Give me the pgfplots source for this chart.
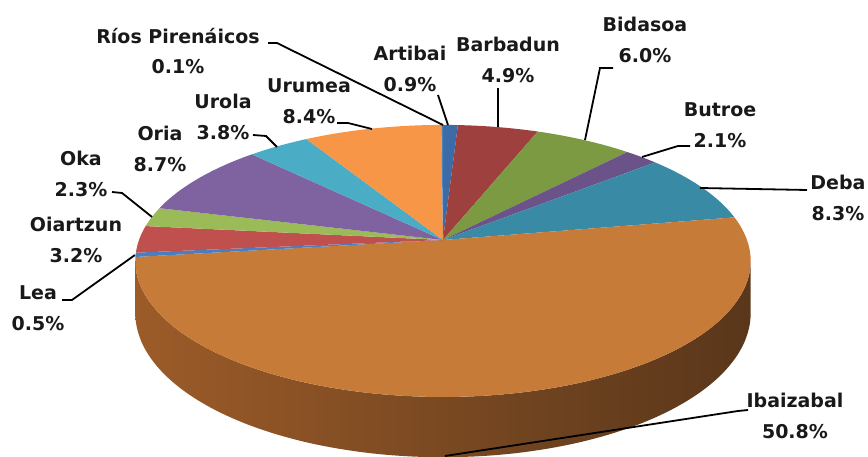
\documentclass[border=0pt]{standalone}
\usepackage{fontspec}
\setmainfont{DejaVu Sans}
\usepackage{pgfplots}
\usepackage{pgfplotstable}
\pgfplotsset{compat=1.18}

% slice colours
\definecolor{cArt}{HTML}{3C6CA8}
\definecolor{cBar}{HTML}{9E413E}
\definecolor{cBid}{HTML}{7B9A41}
\definecolor{cBut}{HTML}{6B5289}
\definecolor{cDeb}{HTML}{398AA4}
\definecolor{cIba}{HTML}{C77B38}
\definecolor{cLea}{HTML}{4A7EC0}
\definecolor{cOia}{HTML}{C0504D}
\definecolor{cOka}{HTML}{9BBB59}
\definecolor{cOri}{HTML}{7F63A1}
\definecolor{cUro}{HTML}{4BACC6}
\definecolor{cUru}{HTML}{F79646}
\definecolor{cRio}{HTML}{4F81BD}
% rim of the large slice, lit from the left
\definecolor{sideA}{HTML}{B26B30}
\definecolor{sideB}{HTML}{9A5A28}
\definecolor{sideC}{HTML}{6D421F}
\definecolor{sideD}{HTML}{4F3018}
\definecolor{sideE}{HTML}{4A2C15}
\pgfdeclarehorizontalshading{ibside}{100bp}{color(0bp)=(sideA); color(27bp)=(sideB); color(59bp)=(sideC); color(84bp)=(sideD); color(100bp)=(sideE)}

% share of each basin, clockwise from twelve o'clock
\pgfplotstableread[col sep=comma]{
name,value,col
Artibai,0.9,cArt
Barbadun,4.9,cBar
Bidasoa,6.0,cBid
Butroe,2.1,cBut
Deba,8.3,cDeb
Ibaizabal,50.8,cIba
Lea,0.5,cLea
Oiartzun,3.2,cOia
Oka,2.3,cOka
Oria,8.7,cOri
Urola,3.8,cUro
Urumea,8.4,cUru
Ríos Pirenáicos,0.1,cRio
}\piedata

\begin{document}
\begin{tikzpicture}[
  % tilted disc seen in perspective: centre (443,217), radii 304 x 132.8
  declare function={
    pk(\t)=1/(1+0.154*sin(\t));
    px(\t)=443+304*cos(\t)*pk(\t);
    py(\t)=217+132.8*sin(\t)*pk(\t);
    pb(\t)=py(\t)-51*pk(\t);
  },
  lbl/.style={font=\fontsize{19}{30.5}\selectfont\bfseries, text=black!90, align=center, inner sep=0pt},
  lead/.style={draw=black, line width=1.8pt}
]
\begin{axis}[
  width=868pt, height=457pt, scale only axis,
  xmin=0, xmax=868, ymin=0, ymax=457,
  hide axis, clip=false
]
% visible rim of the big slice
\shade[shading=ibside]
  plot[domain=-8.86:-171.14, samples=120] ({px(\x)},{py(\x)})
  -- plot[domain=-171.14:-8.86, samples=120] ({px(\x)},{pb(\x)}) -- cycle;

% top face, one slice per row of the table
\def\cum{0}
\pgfplotstablegetrowsof{\piedata}
\pgfmathtruncatemacro\lastrow{\pgfplotsretval-1}
\pgfplotsforeachungrouped \i in {0,...,\lastrow}{%
  \pgfplotstablegetelem{\i}{value}\of\piedata \let\slv\pgfplotsretval
  \pgfplotstablegetelem{\i}{col}\of\piedata \let\slcol\pgfplotsretval
  \pgfmathsetmacro\aS{90-3.6*\cum}%
  \pgfmathsetmacro\aE{90-3.6*(\cum+\slv)}%
  \pgfmathsetmacro\cum{\cum+\slv}%
  \pgfmathtruncatemacro\ns{max(4,3*\slv)}%
  \pgfmathsetmacro\ex{px(\aE)}%
  \pgfmathsetmacro\ey{py(\aE)}%
  \edef\doslice{\noexpand\fill[\slcol] (443,217) --
    plot[domain=\aS:\aE, samples=\ns] ({px(\noexpand\x)},{py(\noexpand\x)})
    -- (\ex,\ey) -- cycle;}%
  \doslice
}

% leader lines
\draw[lead] (268,414) -- (277,414) -- (443,332);
\draw[lead] (438,362) -- (448,332);
\draw[lead] (498,369) -- (498,330);
\draw[lead] (613,389) -- (600,389) -- (585,317);
\draw[lead] (690,311) -- (678,311) -- (642,300);
\draw[lead] (807,267) -- (700,269);
\draw[lead] (748,47) -- (738,46) -- (445,1);
\draw[lead] (62,157) -- (72,157) -- (135,202);
\draw[lead] (112,265) -- (122,264) -- (152,240);
\draw[lead] (253,322) -- (266,321) -- (277,310);
\draw[lead] (337,334) -- (348,334) -- (372,328);

% data labels
\node[lbl] at (178,406) {Ríos Pirenáicos\\0.1\%};
\node[lbl] at (410,388) {Artibai\\0.9\%};
\node[lbl] at (508,397) {Barbadun\\4.9\%};
\node[lbl] at (645,417) {Bidasoa\\6.0\%};
\node[lbl] at (720,332) {Butroe\\2.1\%};
\node[lbl] at (838,259) {Deba\\8.3\%};
\node[lbl] at (795,41) {Ibaizabal\\50.8\%};
\node[lbl] at (38,149) {Lea\\0.5\%};
\node[lbl] at (76,217) {Oiartzun\\3.2\%};
\node[lbl] at (81,283) {Oka\\2.3\%};
\node[lbl] at (160,308) {Oria\\8.7\%};
\node[lbl] at (223,340) {Urola\\3.8\%};
\node[lbl] at (309,356) {Urumea\\8.4\%};
\end{axis}
\pgfresetboundingbox
\path (0,0) rectangle (868pt,457pt);
\end{tikzpicture}
\end{document}
